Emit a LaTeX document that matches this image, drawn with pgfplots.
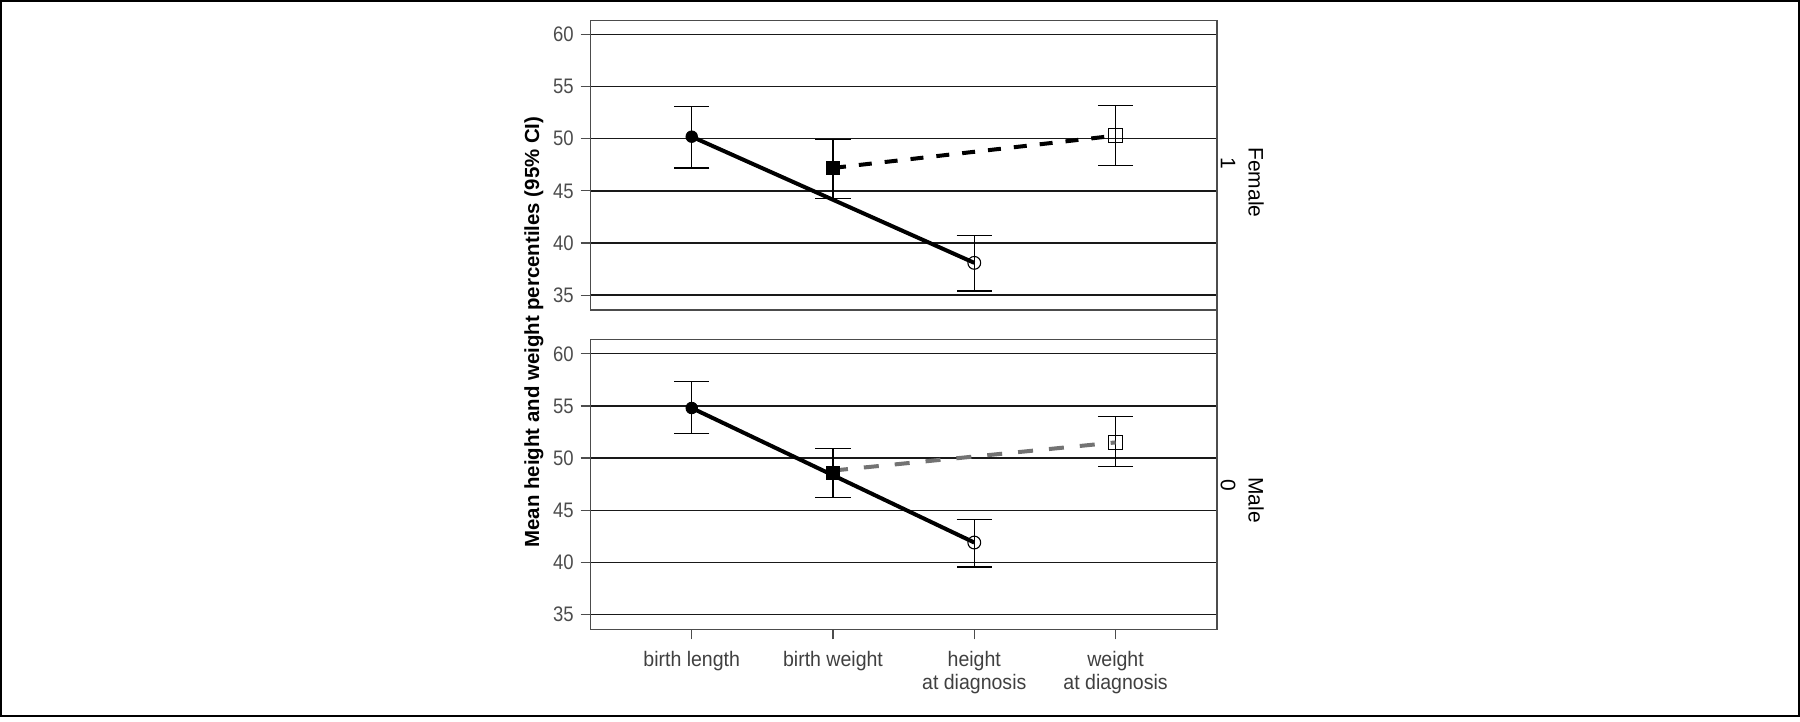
\documentclass[border=0pt]{standalone}
\usepackage{fontspec}
\setmainfont{Liberation Sans}
\newfontfamily\narrowfont{Liberation Sans}[FakeStretch=0.88]
\newfontfamily\xlabfont{Liberation Sans}[FakeStretch=0.93]
\usepackage{pgfplots}
\usepackage{pgfplotstable}
\pgfplotsset{compat=1.18}

\pgfplotstableread{
x y ep em
0 50.2 2.85 3.0
1 47.2 2.7 2.9
2 38.1 2.65 2.7
3 50.3 2.9 2.9
}\femaletab
\pgfplotstableread{
x y ep em
0 54.8 2.5 2.45
1 48.6 2.3 2.4
2 41.9 2.25 2.35
3 51.5 2.5 2.35
}\maletab

\pgfplotsset{
 panel/.style={
  scale only axis, width=313.15pt, height=144.8pt,
  xmin=-0.715, xmax=3.718, ymin=33.58, ymax=61.35,
  ytick={35,40,45,50,55,60},
  ymajorgrids, grid style={line width=0.7pt, black!90},
  axis line style={line width=0.65pt, black!70},
  every tick/.style={line width=0.6pt, black!70},
  tick align=outside, major tick length=5pt,
  ytick pos=left, xtick pos=bottom,
  /pgf/number format/assume math mode=true,
  yticklabel style={font=\narrowfont\fontsize{10.5}{10.5}\selectfont, text=black!70},
  anchor=south west,
 },
 ebar/.style={draw=none, mark=none,
  error bars/.cd, y dir=both, y explicit,
  error bar style={draw=black, line width=0.55pt},
  error mark options={draw=black, rotate=90, mark size=8.8pt, line width=0.55pt}},
}

\begin{document}
\begin{tikzpicture}
\useasboundingbox (0,0) rectangle (900pt,361pt);
\draw[line width=1.2pt, black] (0.6pt,3pt) rectangle (899.4pt,360.4pt);

% Female panel
\begin{axis}[panel, at={(295.35pt,206pt)}, xtick=\empty]
\addplot[ebar] table[x=x,y=y,y error plus=ep,y error minus=em]{\femaletab};
\addplot[black, line width=2pt, mark=none] coordinates {(0,50.2) (2,38.1)};
\addplot[black, line width=2pt, dash pattern=on 6.5pt off 6.5pt, mark=none] coordinates {(1,47.2) (3,50.3)};
\addplot[only marks, mark=*, mark size=2.9pt, black] coordinates {(0,50.2)};
\addplot[only marks, mark=square*, mark size=3.4pt, black] coordinates {(1,47.2)};
\addplot[only marks, mark=o, mark size=3.2pt, black, mark options={line width=0.55pt}] coordinates {(2,38.1)};
\addplot[only marks, mark=square, mark size=3.4pt, black, mark options={line width=0.55pt}] coordinates {(3,50.3)};
\end{axis}

% Male panel
\begin{axis}[panel, at={(295.35pt,46.35pt)},
  xtick={0,1,2,3},
  xticklabels={birth length,birth weight,{height\\at diagnosis},{weight\\at diagnosis}},
  xticklabel style={align=center, font=\xlabfont\fontsize{10.5}{11.2}\selectfont, text=black!75, yshift=-2.7pt}]
\addplot[ebar] table[x=x,y=y,y error plus=ep,y error minus=em]{\maletab};
\addplot[black, line width=2pt, mark=none] coordinates {(0,54.8) (2,41.9)};
\addplot[black!55, line width=2pt, dash pattern=on 7.5pt off 8pt, mark=none] coordinates {(1,48.8) (3,51.5)};
\addplot[only marks, mark=*, mark size=2.9pt, black] coordinates {(0,54.8)};
\addplot[only marks, mark=square*, mark size=3.2pt, black] coordinates {(1,48.6)};
\addplot[only marks, mark=o, mark size=3.2pt, black, mark options={line width=0.55pt}] coordinates {(2,41.9)};
\addplot[only marks, mark=square, mark size=3.4pt, black, mark options={line width=0.55pt}] coordinates {(3,51.5)};
\end{axis}

\draw[line width=0.65pt, black!70] (608.5pt,46.35pt) -- (608.5pt,350.8pt);

\node[rotate=90, font=\bfseries\fontsize{10.2}{10.2}\selectfont, inner sep=0pt] at (267pt,195pt) {Mean height and weight percentiles (95\% CI)};

\node[rotate=-90, anchor=west, inner sep=0pt, font=\fontsize{10.5}{10.5}\selectfont] at (628pt,287.5pt) {Female};
\node[rotate=-90, inner sep=0pt, font=\fontsize{10.5}{10.5}\selectfont] at (614pt,279.5pt) {1};
\node[rotate=-90, anchor=west, inner sep=0pt, font=\fontsize{10.5}{10.5}\selectfont] at (628pt,122.5pt) {Male};
\node[rotate=-90, inner sep=0pt, font=\fontsize{10.5}{10.5}\selectfont] at (614pt,118.5pt) {0};
\end{tikzpicture}
\end{document}
